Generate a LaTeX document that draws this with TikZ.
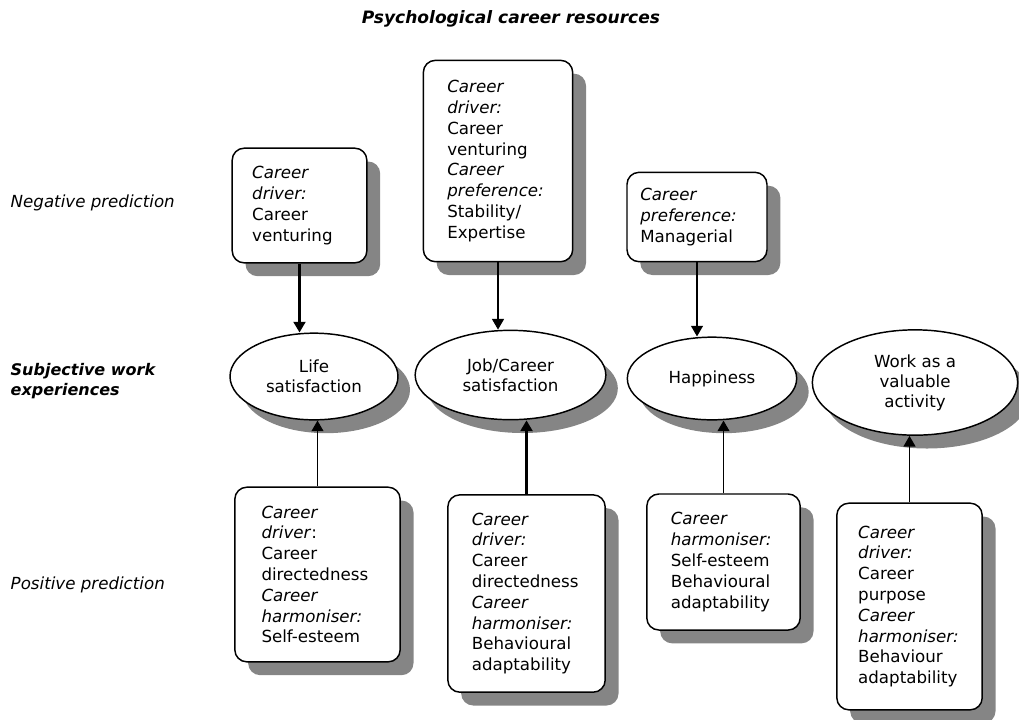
\documentclass[tikz,border=0pt]{standalone}
\usepackage{fontspec}
\setmainfont{DejaVu Sans}
\usetikzlibrary{shapes, arrows.meta, shadows, positioning}

\tikzset{
	resbox/.style={draw, line width=1.1pt, rounded corners=9pt, fill=white, align=left,
		inner xsep=18pt, inner ysep=4pt, font=\fontsize{12.5}{15.6}\selectfont,
		drop shadow={shadow xshift=10pt, shadow yshift=-10pt, fill=black!48, opacity=1}},
	expell/.style={draw, ellipse, line width=1.1pt, fill=white, align=center, inner sep=0pt,
		font=\fontsize{12.5}{15}\selectfont,
		drop shadow={shadow xshift=9pt, shadow yshift=-10pt, fill=black!48, opacity=1}},
	pred/.style={-{Triangle[width=9pt,length=8pt]}, line width=0.9pt},
	sidelabel/.style={anchor=west, align=left, font=\fontsize{12.5}{15}\selectfont\itshape}
}

\begin{document}
\begin{tikzpicture}[x=0.75pt, y=-0.75pt]
	\useasboundingbox (0,0) rectangle (1019,719);
	% headings
	\node[font=\fontsize{12.8}{15}\selectfont\bfseries\itshape] (title) at (511,19) {Psychological career resources};
	\node[sidelabel] (lneg) at (6,203) {Negative prediction};
	\node[sidelabel, font=\fontsize{12}{15.5}\selectfont\bfseries\itshape] (lsub) at (6,381) {Subjective work\\experiences};
	\node[sidelabel] (lpos) at (6,585) {Positive prediction};
	% subjective work experiences
	\node[expell, minimum width=126pt, minimum height=65pt] (life) at (314,376.5) {Life\\satisfaction};
	\node[expell, minimum width=143pt, minimum height=67pt] (job) at (510.5,375) {Job/Career\\satisfaction};
	\node[expell, minimum width=127pt, minimum height=62pt] (happy) at (712,378.5) {Happiness};
	\node[expell, minimum width=154pt, minimum height=79pt] (work) at (915,382.5) {Work as a\\valuable\\activity};
	% negative predictors
	\node[resbox, inner xsep=15pt, text width=71pt, minimum height=86pt] (neg1) at (299.5,205.5)
		{\textit{Career}\\\textit{driver:}\\Career\\venturing};
	\node[resbox, text width=76pt, minimum height=151pt] (neg2) at (498,161)
		{\textit{Career}\\\textit{driver:}\\Career\\venturing\\\textit{Career}\\\textit{preference:}\\Stability/\\Expertise};
	\node[resbox, inner xsep=10pt, text width=85pt, minimum height=67pt] (neg3) at (697,217)
		{\textit{Career}\\\textit{preference:}\\Managerial};
	% positive predictors
	\node[resbox, inner xsep=20pt, text width=84pt, minimum height=131pt] (pos1) at (317.5,574.5)
		{\textit{Career}\\\textit{driver}:\\Career\\directedness\\\textit{Career}\\\textit{harmoniser:}\\Self-esteem};
	\node[resbox, text width=82pt, minimum height=148pt] (pos2) at (526.5,593.5)
		{\textit{Career}\\\textit{driver:}\\Career\\directedness\\\textit{Career}\\\textit{harmoniser:}\\Behavioural\\adaptability};
	\node[resbox, text width=79pt, minimum height=102pt] (pos3) at (723.5,562)
		{\textit{Career}\\\textit{harmoniser:}\\Self-esteem\\Behavioural\\adaptability};
	\node[resbox, inner xsep=16pt, text width=77pt, minimum height=155pt] (pos4) at (909.5,606.5)
		{\textit{Career}\\\textit{driver:}\\Career\\purpose\\\textit{Career}\\\textit{harmoniser:}\\Behaviour\\adaptability};
	% arrows
	\draw[pred, line width=1.6pt] (neg1.south) -- (neg1.south |- life.north);
	\draw[pred] (neg2.south) -- (neg2.south |- job.north);
	\draw[pred] (neg3.south) -- (neg3.south |- happy.north);
	\draw[pred] (pos1.north) -- (pos1.north |- life.south);
	\draw[pred, line width=1.6pt] (pos2.north) -- (pos2.north |- job.south);
	\draw[pred] (pos3.north) -- (pos3.north |- happy.south);
	\draw[pred] (pos4.north) -- (pos4.north |- work.south);
\end{tikzpicture}
\end{document}
